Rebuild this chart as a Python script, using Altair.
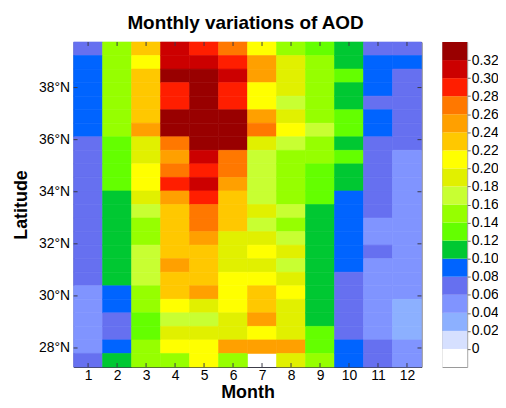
import altair as alt
import pandas as pd

chart_title = "Monthly variations of AOD"
months = [1, 2, 3, 4, 5, 6, 7, 8, 9, 10, 11, 12]
# latitude of each grid row (north to south)
lats = [39.49, 38.97, 38.45, 37.93, 37.41, 36.89, 36.37, 35.85, 35.33, 34.81, 34.29, 33.77,
        33.25, 32.73, 32.21, 31.69, 31.17, 30.65, 30.13, 29.61, 29.09, 28.57, 28.05, 27.53]
half_row = 0.26
lat_ticks = [28, 30, 32, 34, 36, 38]

# AOD per month, rows north -> south
aod_m1 = [0.07, 0.09, 0.09, 0.09, 0.09, 0.09, 0.09, 0.07, 0.07, 0.07, 0.07, 0.07,
          0.07, 0.07, 0.07, 0.07, 0.07, 0.07, 0.05, 0.05, 0.05, 0.05, 0.05, 0.07]
aod_m2 = [0.15, 0.15, 0.15, 0.15, 0.15, 0.15, 0.15, 0.13, 0.13, 0.13, 0.13, 0.11,
          0.11, 0.11, 0.11, 0.11, 0.11, 0.11, 0.09, 0.09, 0.07, 0.07, 0.09, 0.11]
aod_m3 = [0.23, 0.21, 0.23, 0.23, 0.23, 0.23, 0.25, 0.19, 0.19, 0.21, 0.21, 0.19,
          0.17, 0.15, 0.15, 0.17, 0.17, 0.17, 0.15, 0.15, 0.13, 0.13, 0.15, 0.15]
aod_m4 = [0.31, 0.31, 0.33, 0.29, 0.29, 0.33, 0.33, 0.27, 0.25, 0.27, 0.29, 0.25,
          0.23, 0.23, 0.23, 0.23, 0.25, 0.23, 0.23, 0.21, 0.17, 0.19, 0.21, 0.15]
aod_m5 = [0.29, 0.31, 0.33, 0.33, 0.33, 0.33, 0.33, 0.33, 0.31, 0.29, 0.31, 0.29,
          0.27, 0.27, 0.25, 0.23, 0.23, 0.23, 0.25, 0.19, 0.17, 0.19, 0.21, 0.21]
aod_m6 = [0.27, 0.29, 0.31, 0.29, 0.29, 0.33, 0.33, 0.33, 0.27, 0.27, 0.25, 0.23,
          0.23, 0.23, 0.19, 0.19, 0.19, 0.21, 0.21, 0.21, 0.19, 0.19, 0.25, 0.15]
aod_m7 = [0.21, 0.25, 0.25, 0.21, 0.21, 0.25, 0.27, 0.19, 0.17, 0.17, 0.17, 0.17,
          0.19, 0.17, 0.19, 0.21, 0.19, 0.21, 0.23, 0.23, 0.25, 0.21, 0.25, None]
aod_m8 = [0.15, 0.19, 0.19, 0.19, 0.17, 0.19, 0.21, 0.17, 0.15, 0.15, 0.15, 0.15,
          0.17, 0.15, 0.17, 0.19, 0.17, 0.19, 0.21, 0.19, 0.19, 0.19, 0.25, 0.19]
aod_m9 = [0.13, 0.15, 0.15, 0.15, 0.15, 0.15, 0.17, 0.15, 0.15, 0.13, 0.13, 0.13,
          0.11, 0.11, 0.11, 0.11, 0.11, 0.11, 0.11, 0.11, 0.11, 0.13, 0.13, 0.15]
aod_m10 = [0.11, 0.11, 0.13, 0.11, 0.11, 0.13, 0.13, 0.11, 0.13, 0.11, 0.11, 0.09,
           0.09, 0.09, 0.09, 0.09, 0.09, 0.07, 0.07, 0.07, 0.07, 0.07, 0.09, 0.09]
aod_m11 = [0.07, 0.09, 0.09, 0.09, 0.07, 0.09, 0.09, 0.07, 0.07, 0.07, 0.07, 0.07,
           0.07, 0.05, 0.05, 0.07, 0.05, 0.05, 0.05, 0.05, 0.05, 0.05, 0.07, 0.07]
aod_m12 = [0.07, 0.09, 0.07, 0.07, 0.07, 0.07, 0.07, 0.07, 0.05, 0.05, 0.05, 0.05,
           0.05, 0.05, 0.05, 0.05, 0.05, 0.05, 0.05, 0.03, 0.03, 0.03, 0.05, 0.05]

# colour bar: thresholds and colours (lowest band = below 0)
cb_thresholds = [0.00, 0.02, 0.04, 0.06, 0.08, 0.10, 0.12, 0.14, 0.16,
                 0.18, 0.20, 0.22, 0.24, 0.26, 0.28, 0.30, 0.32]
cb_colors = ["#ffffff", "#d6e0ff", "#8cb0ff", "#8094ff", "#6670f0", "#0064ff",
             "#00c832", "#64ff00", "#96ff00", "#c8ff32", "#e1f000", "#ffff00",
             "#ffc800", "#ffa000", "#ff7800", "#ff1e00", "#cc0000", "#990000"]
cb_min, cb_max = -0.02, 0.34

aod_by_month = [aod_m1, aod_m2, aod_m3, aod_m4, aod_m5, aod_m6,
                aod_m7, aod_m8, aod_m9, aod_m10, aod_m11, aod_m12]

rows = []
for m, col in zip(months, aod_by_month):
    for lat, v in zip(lats, col):
        rows.append({"month": m, "m0": m - 0.5, "m1": m + 0.5,
                     "lat0": lat - half_row, "lat1": lat + half_row, "aod": v})
df = pd.DataFrame(rows)

cb_lo = [cb_min] + cb_thresholds
cb_hi = cb_thresholds + [cb_max]
cb_df = pd.DataFrame({"k": ["cb"] * len(cb_colors), "lo": cb_lo, "hi": cb_hi, "color": cb_colors})

W, H = 350, 327
FRAME = "#3a3a48"
FONT = "Liberation Sans"

xscale = alt.Scale(domain=[0.5, 12.5], nice=False, zero=False)
yscale = alt.Scale(domain=[27.27, 39.75], nice=False, zero=False)
cscale = alt.Scale(type="threshold", domain=cb_thresholds, range=cb_colors)

xaxis = alt.Axis(values=months, format="d", title="Month", ticks=False, tickSize=0,
                 domain=False, grid=False, labelPadding=2, titlePadding=1, labelFlush=False)
yaxis = alt.Axis(values=lat_ticks, labelExpr="datum.value + '°N'", title="Latitude",
                 ticks=False, tickSize=0, domain=False, grid=False,
                 labelPadding=4, titlePadding=8, labelFlush=False)

fill = alt.condition("!isValid(datum.aod)", alt.value("#ffffff"),
                     alt.Color("aod:Q", scale=cscale, legend=None))
strk = alt.condition("!isValid(datum.aod)", alt.value("#ffffff"),
                     alt.Color("aod:Q", scale=cscale, legend=None))

heat = alt.Chart(df).mark_rect(strokeWidth=0.6).encode(
    x=alt.X("m0:Q", scale=xscale, axis=xaxis, title="Month"),
    x2="m1",
    y=alt.Y("lat0:Q", scale=yscale, axis=yaxis, title="Latitude"),
    y2="lat1",
    color=fill,
    stroke=strk,
)

xt = pd.DataFrame({"month": months})
yt = pd.DataFrame({"lat": lat_ticks})
top_ticks = alt.Chart(xt).mark_rule(color=FRAME).encode(
    x=alt.X("month:Q", scale=xscale, axis=xaxis, title="Month"), y=alt.value(0), y2=alt.value(4))
bot_ticks = alt.Chart(xt).mark_rule(color=FRAME).encode(
    x=alt.X("month:Q", scale=xscale, axis=xaxis, title="Month"), y=alt.value(H - 4), y2=alt.value(H))
left_ticks = alt.Chart(yt).mark_rule(color=FRAME).encode(
    y=alt.Y("lat:Q", scale=yscale, axis=yaxis, title="Latitude"), x=alt.value(0), x2=alt.value(4))
right_ticks = alt.Chart(yt).mark_rule(color=FRAME).encode(
    y=alt.Y("lat:Q", scale=yscale, axis=yaxis, title="Latitude"), x=alt.value(W - 4), x2=alt.value(W))

main = alt.layer(heat, top_ticks, bot_ticks, left_ticks, right_ticks).properties(
    width=W, height=H, view=alt.ViewBackground(stroke=FRAME, strokeWidth=1))

cbar = alt.Chart(cb_df).mark_rect().encode(
    x=alt.X("k:N", axis=None, scale=alt.Scale(paddingInner=0, paddingOuter=0)),
    y=alt.Y("lo:Q", scale=alt.Scale(domain=[cb_min, cb_max], nice=False, zero=False),
            axis=alt.Axis(orient="right", values=cb_thresholds,
                          labelExpr="datum.value == 0 ? '0' : format(datum.value, '.2f')",
                          title=None, ticks=True, tickSize=3, tickColor="#666666",
                          domain=False, grid=False, labelPadding=1, labelFlush=False)),
    y2="hi",
    color=alt.Color("color:N", scale=None),
).properties(width=25, height=H, view=alt.ViewBackground(stroke="#999999", strokeWidth=1))

chart = alt.hconcat(main, cbar, spacing=19).properties(
    title=alt.TitleParams(text=chart_title, fontSize=19, font=FONT, fontWeight="bold",
                          anchor="middle", dx=-10, offset=8, color="black"),
    padding={"left": 4, "top": 5, "right": -1, "bottom": -3},
).configure_axis(
    labelFont=FONT, labelFontSize=14, labelColor="black",
    titleFont=FONT, titleFontSize=18, titleFontWeight="bold", titleColor="black",
)

chart.save("out.html", embed_options={"renderer": "svg", "actions": False})
